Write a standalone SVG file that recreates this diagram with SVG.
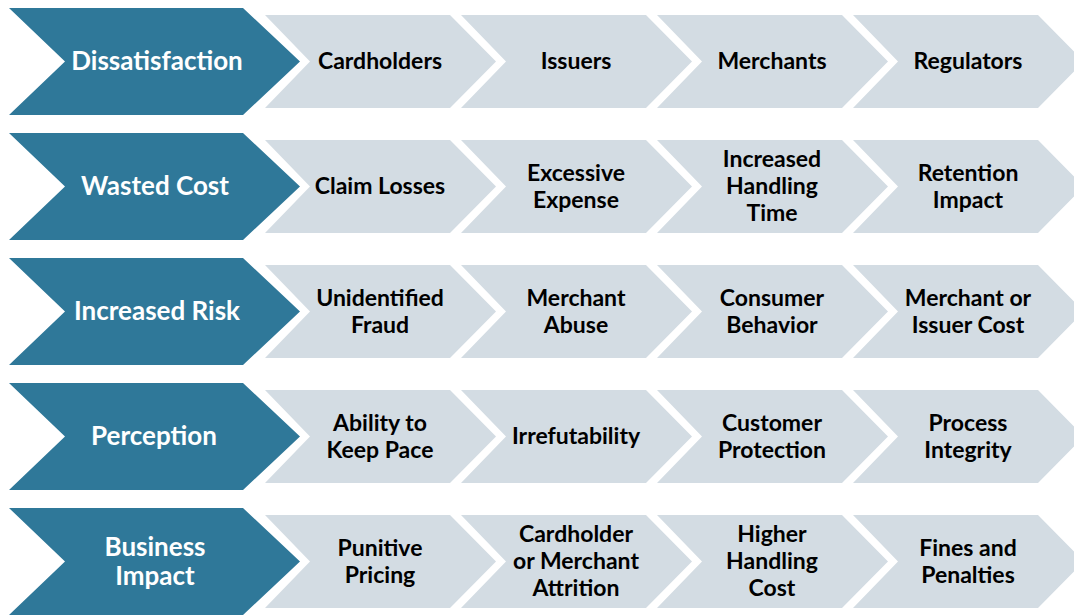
<svg xmlns="http://www.w3.org/2000/svg" width="1074" height="616" viewBox="0 0 1074 616">
<defs>
<style>
.dk{fill:#2F7899}
.lt{fill:#D3DCE3}
.t1{font-family:Lato,"Open Sans",sans-serif;font-weight:bold;font-size:26px;fill:#fff;text-anchor:middle}
.t2{font-family:Lato,"Open Sans",sans-serif;font-weight:bold;font-size:23px;fill:#000;text-anchor:middle}
</style>
<path id="d" d="M0 0H234L291 53.5L234 107H0L56 53.5Z"/>
<path id="l" d="M0 0H185L231 46.5L185 93H0L45 46.5Z"/>
</defs>
<g id="row1" transform="translate(0,0)">
<g id="n1"><use href="#d" class="dk" x="9" y="8"/><text class="t1" x="157" y="70">Dissatisfaction</text></g>
<g id="n1a"><use href="#l" class="lt" x="265" y="15"/><text class="t2" x="380" y="69">Cardholders</text></g>
<g id="n1b"><use href="#l" class="lt" x="461" y="15"/><text class="t2" x="576" y="69">Issuers</text></g>
<g id="n1c"><use href="#l" class="lt" x="657" y="15"/><text class="t2" x="772" y="69">Merchants</text></g>
<g id="n1d"><use href="#l" class="lt" x="853" y="15"/><text class="t2" x="968" y="69">Regulators</text></g>
</g>
<g id="row2" transform="translate(0,125)">
<g id="n2"><use href="#d" class="dk" x="9" y="8"/><text class="t1" x="155" y="70">Wasted Cost</text></g>
<g id="n2a"><use href="#l" class="lt" x="265" y="15"/><text class="t2" x="380" y="69">Claim Losses</text></g>
<g id="n2b"><use href="#l" class="lt" x="461" y="15"/><text class="t2" x="576" y="55.5">Excessive</text><text class="t2" x="576" y="82.5">Expense</text></g>
<g id="n2c"><use href="#l" class="lt" x="657" y="15"/><text class="t2" x="772" y="42">Increased</text><text class="t2" x="772" y="69">Handling</text><text class="t2" x="772" y="96">Time</text></g>
<g id="n2d"><use href="#l" class="lt" x="853" y="15"/><text class="t2" x="968" y="55.5">Retention</text><text class="t2" x="968" y="82.5">Impact</text></g>
</g>
<g id="row3" transform="translate(0,250)">
<g id="n3"><use href="#d" class="dk" x="9" y="8"/><text class="t1" x="157" y="70">Increased Risk</text></g>
<g id="n3a"><use href="#l" class="lt" x="265" y="15"/><text class="t2" x="380" y="55.5">Unidentified</text><text class="t2" x="380" y="82.5">Fraud</text></g>
<g id="n3b"><use href="#l" class="lt" x="461" y="15"/><text class="t2" x="576" y="55.5">Merchant</text><text class="t2" x="576" y="82.5">Abuse</text></g>
<g id="n3c"><use href="#l" class="lt" x="657" y="15"/><text class="t2" x="772" y="55.5">Consumer</text><text class="t2" x="772" y="82.5">Behavior</text></g>
<g id="n3d"><use href="#l" class="lt" x="853" y="15"/><text class="t2" x="968" y="55.5">Merchant or</text><text class="t2" x="968" y="82.5">Issuer Cost</text></g>
</g>
<g id="row4" transform="translate(0,375)">
<g id="n4"><use href="#d" class="dk" x="9" y="8"/><text class="t1" x="154" y="70">Perception</text></g>
<g id="n4a"><use href="#l" class="lt" x="265" y="15"/><text class="t2" x="380" y="55.5">Ability to</text><text class="t2" x="380" y="82.5">Keep Pace</text></g>
<g id="n4b"><use href="#l" class="lt" x="461" y="15"/><text class="t2" x="576" y="69">Irrefutability</text></g>
<g id="n4c"><use href="#l" class="lt" x="657" y="15"/><text class="t2" x="772" y="55.5">Customer</text><text class="t2" x="772" y="82.5">Protection</text></g>
<g id="n4d"><use href="#l" class="lt" x="853" y="15"/><text class="t2" x="968" y="55.5">Process</text><text class="t2" x="968" y="82.5">Integrity</text></g>
</g>
<g id="row5" transform="translate(0,500)">
<g id="n5"><use href="#d" class="dk" x="9" y="8"/><text class="t1" x="155" y="56">Business</text><text class="t1" x="155" y="85">Impact</text></g>
<g id="n5a"><use href="#l" class="lt" x="265" y="15"/><text class="t2" x="380" y="55.5">Punitive</text><text class="t2" x="380" y="82.5">Pricing</text></g>
<g id="n5b"><use href="#l" class="lt" x="461" y="15"/><text class="t2" x="576" y="42">Cardholder</text><text class="t2" x="576" y="69">or Merchant</text><text class="t2" x="576" y="96">Attrition</text></g>
<g id="n5c"><use href="#l" class="lt" x="657" y="15"/><text class="t2" x="772" y="42">Higher</text><text class="t2" x="772" y="69">Handling</text><text class="t2" x="772" y="96">Cost</text></g>
<g id="n5d"><use href="#l" class="lt" x="853" y="15"/><text class="t2" x="968" y="55.5">Fines and</text><text class="t2" x="968" y="82.5">Penalties</text></g>
</g>
<g id="connectors"/>
</svg>
